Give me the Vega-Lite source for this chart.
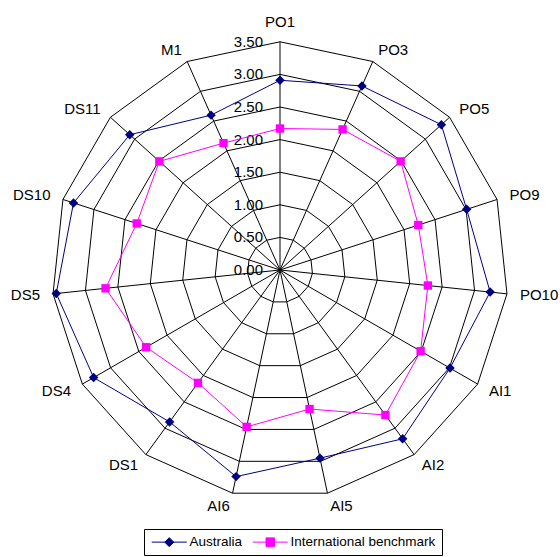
{
  "$schema": "https://vega.github.io/schema/vega-lite/v6.json",
  "width": 560,
  "height": 557,
  "padding": 0,
  "autosize": {"type": "none"},
  "config": {"view": {"stroke": null}, "text": {"font": "Liberation Sans", "color": "black"}},
  "datasets": {
    "axes": [
      {"idx": 0, "axis": "PO1"}, {"idx": 1, "axis": "PO3"}, {"idx": 2, "axis": "PO5"},
      {"idx": 3, "axis": "PO9"}, {"idx": 4, "axis": "PO10"}, {"idx": 5, "axis": "AI1"},
      {"idx": 6, "axis": "AI2"}, {"idx": 7, "axis": "AI5"}, {"idx": 8, "axis": "AI6"},
      {"idx": 9, "axis": "DS1"}, {"idx": 10, "axis": "DS4"}, {"idx": 11, "axis": "DS5"},
      {"idx": 12, "axis": "DS10"}, {"idx": 13, "axis": "DS11"}, {"idx": 14, "axis": "M1"}
    ],
    "levels": [
      {"level": 0}, {"level": 0.5}, {"level": 1}, {"level": 1.5},
      {"level": 2}, {"level": 2.5}, {"level": 3}, {"level": 3.5}
    ],
    "scores": [
      {"idx": 0, "axis": "PO1", "series": "Australia", "value": 2.91},
      {"idx": 1, "axis": "PO3", "series": "Australia", "value": 3.09},
      {"idx": 2, "axis": "PO5", "series": "Australia", "value": 3.33},
      {"idx": 3, "axis": "PO9", "series": "Australia", "value": 3.01},
      {"idx": 4, "axis": "PO10", "series": "Australia", "value": 3.24},
      {"idx": 5, "axis": "AI1", "series": "Australia", "value": 3.01},
      {"idx": 6, "axis": "AI2", "series": "Australia", "value": 3.2},
      {"idx": 7, "axis": "AI5", "series": "Australia", "value": 2.95},
      {"idx": 8, "axis": "AI6", "series": "Australia", "value": 3.24},
      {"idx": 9, "axis": "DS1", "series": "Australia", "value": 2.88},
      {"idx": 10, "axis": "DS4", "series": "Australia", "value": 3.3},
      {"idx": 11, "axis": "DS5", "series": "Australia", "value": 3.45},
      {"idx": 12, "axis": "DS10", "series": "Australia", "value": 3.33},
      {"idx": 13, "axis": "DS11", "series": "Australia", "value": 3.1},
      {"idx": 14, "axis": "M1", "series": "Australia", "value": 2.6},
      {"idx": 0, "axis": "PO1", "series": "International benchmark", "value": 2.17},
      {"idx": 1, "axis": "PO3", "series": "International benchmark", "value": 2.36},
      {"idx": 2, "axis": "PO5", "series": "International benchmark", "value": 2.49},
      {"idx": 3, "axis": "PO9", "series": "International benchmark", "value": 2.23},
      {"idx": 4, "axis": "PO10", "series": "International benchmark", "value": 2.28},
      {"idx": 5, "axis": "AI1", "series": "International benchmark", "value": 2.49},
      {"idx": 6, "axis": "AI2", "series": "International benchmark", "value": 2.75},
      {"idx": 7, "axis": "AI5", "series": "International benchmark", "value": 2.18},
      {"idx": 8, "axis": "AI6", "series": "International benchmark", "value": 2.46},
      {"idx": 9, "axis": "DS1", "series": "International benchmark", "value": 2.14},
      {"idx": 10, "axis": "DS4", "series": "International benchmark", "value": 2.37},
      {"idx": 11, "axis": "DS5", "series": "International benchmark", "value": 2.69},
      {"idx": 12, "axis": "DS10", "series": "International benchmark", "value": 2.31},
      {"idx": 13, "axis": "DS11", "series": "International benchmark", "value": 2.49},
      {"idx": 14, "axis": "M1", "series": "International benchmark", "value": 2.13}
    ]
  },
  "layer": [
    {
      "data": {"name": "axes"},
      "transform": [
        {"calculate": "[0.5,1,1.5,2,2.5,3,3.5]", "as": "ring"},
        {"flatten": ["ring"]},
        {"calculate": "datum.idx * 2 * PI / 15", "as": "th"},
        {"calculate": "datum.ring * sin(datum.th)", "as": "x"},
        {"calculate": "datum.ring * cos(datum.th)", "as": "y"}
      ],
      "mark": {"type": "line", "interpolate": "linear-closed", "stroke": "black", "strokeWidth": 1},
      "encoding": {
        "x": {"field": "x", "type": "quantitative", "scale": {"domain": [-4.294, 4.294], "nice": false, "zero": false}, "axis": null},
        "y": {"field": "y", "type": "quantitative", "scale": {"domain": [-4.402, 4.141], "nice": false, "zero": false}, "axis": null},
        "detail": {"field": "ring", "type": "ordinal"},
        "order": {"field": "idx", "type": "quantitative"}
      }
    },
    {
      "data": {"name": "axes"},
      "transform": [
        {"calculate": "datum.idx * 2 * PI / 15", "as": "th"},
        {"calculate": "3.5 * sin(datum.th)", "as": "xe"},
        {"calculate": "3.5 * cos(datum.th)", "as": "ye"}
      ],
      "mark": {"type": "rule", "stroke": "black", "strokeWidth": 1},
      "encoding": {
        "x": {"field": "xe", "type": "quantitative", "scale": {"domain": [-4.294, 4.294], "nice": false, "zero": false}, "axis": null},
        "y": {"field": "ye", "type": "quantitative", "scale": {"domain": [-4.402, 4.141], "nice": false, "zero": false}, "axis": null},
        "x2": {"datum": 0},
        "y2": {"datum": 0}
      }
    },
    {
      "data": {"name": "levels"},
      "mark": {"type": "text", "align": "right", "baseline": "middle", "dx": -17, "fontSize": 15},
      "encoding": {
        "x": {"datum": 0, "type": "quantitative", "scale": {"domain": [-4.294, 4.294], "nice": false, "zero": false}, "axis": null},
        "y": {"field": "level", "type": "quantitative", "scale": {"domain": [-4.402, 4.141], "nice": false, "zero": false}, "axis": null},
        "text": {"field": "level", "type": "quantitative", "format": ".2f"}
      }
    },
    {
      "data": {"name": "axes"},
      "transform": [
        {"calculate": "datum.idx * 2 * PI / 15", "as": "th"},
        {"calculate": "3.7 * sin(datum.th)", "as": "xl"},
        {"calculate": "3.7 * cos(datum.th)", "as": "yl"},
        {"calculate": "sin(datum.th) > 0.1 ? 'left' : (sin(datum.th) < -0.1 ? 'right' : 'center')", "as": "side"}
      ],
      "encoding": {
        "x": {"field": "xl", "type": "quantitative", "scale": {"domain": [-4.294, 4.294], "nice": false, "zero": false}, "axis": null},
        "y": {"field": "yl", "type": "quantitative", "scale": {"domain": [-4.402, 4.141], "nice": false, "zero": false}, "axis": null},
        "text": {"field": "axis", "type": "nominal"}
      },
      "layer": [
        {"transform": [{"filter": "datum.side === 'left'"}], "mark": {"type": "text", "align": "left", "baseline": "middle", "fontSize": 15}},
        {"transform": [{"filter": "datum.side === 'right'"}], "mark": {"type": "text", "align": "right", "baseline": "middle", "fontSize": 15}},
        {"transform": [{"filter": "datum.side === 'center'"}], "mark": {"type": "text", "align": "center", "baseline": "bottom", "fontSize": 15, "dy": 1}}
      ]
    },
    {
      "data": {"name": "scores"},
      "transform": [
        {"filter": "datum.series === 'Australia'"},
        {"calculate": "datum.idx * 2 * PI / 15", "as": "th"},
        {"calculate": "datum.value * sin(datum.th)", "as": "x"},
        {"calculate": "datum.value * cos(datum.th)", "as": "y"}
      ],
      "layer": [
        {"mark": {"type": "line", "interpolate": "linear-closed", "stroke": "#000080", "strokeWidth": 1}},
        {"mark": {"type": "point", "shape": "diamond", "filled": true, "fill": "#000080", "size": 90, "opacity": 1}}
      ],
      "encoding": {
        "x": {"field": "x", "type": "quantitative", "scale": {"domain": [-4.294, 4.294], "nice": false, "zero": false}, "axis": null},
        "y": {"field": "y", "type": "quantitative", "scale": {"domain": [-4.402, 4.141], "nice": false, "zero": false}, "axis": null},
        "order": {"field": "idx", "type": "quantitative"}
      }
    },
    {
      "data": {"name": "scores"},
      "transform": [
        {"filter": "datum.series === 'International benchmark'"},
        {"calculate": "datum.idx * 2 * PI / 15", "as": "th"},
        {"calculate": "datum.value * sin(datum.th)", "as": "x"},
        {"calculate": "datum.value * cos(datum.th)", "as": "y"}
      ],
      "layer": [
        {"mark": {"type": "line", "interpolate": "linear-closed", "stroke": "#FF00FF", "strokeWidth": 1}},
        {"mark": {"type": "point", "shape": "square", "filled": true, "fill": "#FF00FF", "size": 70, "opacity": 1}}
      ],
      "encoding": {
        "x": {"field": "x", "type": "quantitative", "scale": {"domain": [-4.294, 4.294], "nice": false, "zero": false}, "axis": null},
        "y": {"field": "y", "type": "quantitative", "scale": {"domain": [-4.402, 4.141], "nice": false, "zero": false}, "axis": null},
        "order": {"field": "idx", "type": "quantitative"}
      }
    },
    {
      "data": {"name": "scores"},
      "mark": {"type": "point", "filled": true, "opacity": 0},
      "encoding": {
        "x": {"datum": 0, "type": "quantitative", "scale": {"domain": [-4.294, 4.294], "nice": false, "zero": false}, "axis": null},
        "y": {"datum": 0, "type": "quantitative", "scale": {"domain": [-4.402, 4.141], "nice": false, "zero": false}, "axis": null},
        "color": {
          "field": "series", "type": "nominal",
          "scale": {"domain": ["Australia", "International benchmark"], "range": ["#000080", "#FF00FF"]},
          "legend": {
            "title": null, "orient": "none", "legendX": 144, "legendY": 529, "direction": "horizontal",
            "strokeColor": "black", "fillColor": "white", "padding": 6, "cornerRadius": 0,
            "labelFont": "Liberation Sans", "labelFontSize": 13.5, "labelColor": "black",
            "symbolSize": 100, "symbolOpacity": 1, "symbolStrokeWidth": 1, "labelOffset": 26, "columnPadding": 7,
            "encode": {"symbols": {"update": {"stroke": {"scale": "color", "field": "value"}}}}
          }
        },
        "shape": {
          "field": "series", "type": "nominal",
          "scale": {"domain": ["Australia", "International benchmark"], "range": [
            "M-1,0H6M1.6,0L2.5,-0.9L3.4,0L2.5,0.9Z",
            "M-1,0H6M1.65,-0.85H3.35V0.85H1.65Z"
          ]},
          "legend": {
            "title": null, "orient": "none", "legendX": 144, "legendY": 529, "direction": "horizontal",
            "strokeColor": "black", "fillColor": "white", "padding": 6, "cornerRadius": 0,
            "labelFont": "Liberation Sans", "labelFontSize": 13.5, "labelColor": "black",
            "symbolSize": 100, "symbolOpacity": 1, "symbolStrokeWidth": 1, "labelOffset": 26, "columnPadding": 7,
            "encode": {"symbols": {"update": {"stroke": {"scale": "color", "field": "value"}}}}
          }
        }
      }
    }
  ]
}
